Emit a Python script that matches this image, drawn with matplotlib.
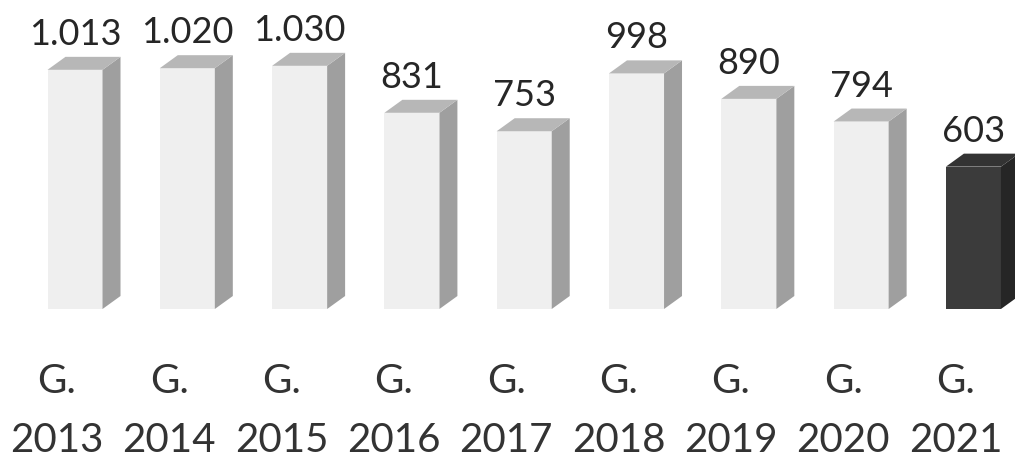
import matplotlib.pyplot as plt
import matplotlib.transforms as mtransforms
from matplotlib.patches import Polygon

years = ["2013", "2014", "2015", "2016", "2017", "2018", "2019", "2020", "2021"]
values = [1013, 1020, 1030, 831, 753, 998, 890, 794, 603]
value_labels = ["1.013", "1.020", "1.030", "831", "753", "998", "890", "794", "603"]
tick_labels = ["G.\n" + y for y in years]

# face colours: front, side, top
light = ("#efefef", "#9f9f9f", "#b7b7b7")
dark = ("#3b3b3b", "#262626", "#333333")

plt.rcParams['font.family'] = ['Lato', 'DejaVu Sans']

fig = plt.figure(figsize=(10.15, 4.64), dpi=100)
ax = fig.add_axes([0, 154 / 464, 1, 310 / 464])
ax.set_xlim(-0.668, 8.37)
ax.set_ylim(0, 1313)

w = 0.49    # front width
dx = 0.16   # depth offset in x
dy = 55     # depth offset in y

x = list(range(len(values)))
for i, v in enumerate(values):
    front, side, top = dark if i == len(values) - 1 else light
    ax.bar(i, v, width=w, color=front, edgecolor="none", zorder=2)
    r = i + w / 2
    l = i - w / 2
    ax.add_patch(Polygon([(r, 0), (r + dx, dy), (r + dx, v + dy), (r, v)],
                         closed=True, facecolor=side, edgecolor="none", zorder=2))
    ax.add_patch(Polygon([(l, v), (l + dx, v + dy), (r + dx, v + dy), (r, v)],
                         closed=True, facecolor=top, edgecolor="none", zorder=2))
    ax.annotate(value_labels[i], (i, v + dy), xytext=(0, 5), textcoords="offset points",
                ha="center", va="bottom", fontsize=26, color="#262626")

ax.set_xticks(x)
ax.set_xticklabels(tick_labels, fontsize=29, color="#333333", linespacing=1.75)
ax.tick_params(axis="x", length=0, pad=38)
shift = mtransforms.ScaledTranslation(-0.18, 0, fig.dpi_scale_trans)
for lab in ax.get_xticklabels():
    lab.set_transform(lab.get_transform() + shift)
ax.set_yticks([])
for s in ax.spines.values():
    s.set_visible(False)

fig.savefig("out.png", dpi=100)
